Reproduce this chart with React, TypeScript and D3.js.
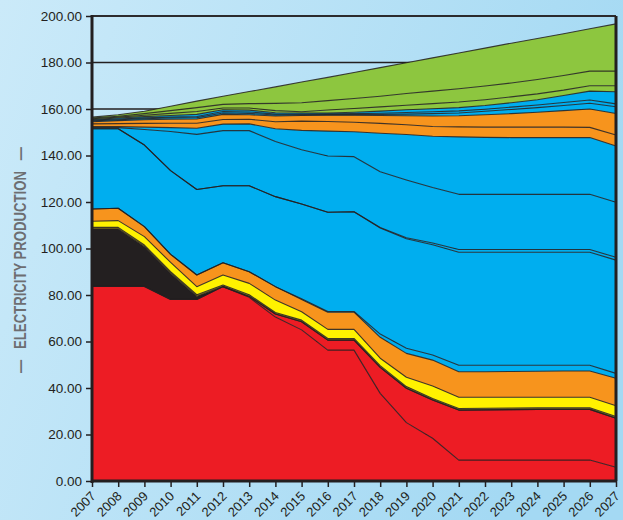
import { useEffect, useRef } from 'react';
import * as d3 from 'd3';

// years on the x axis
const years = [2007, 2008, 2009, 2010, 2011, 2012, 2013, 2014, 2015, 2016, 2017,
  2018, 2019, 2020, 2021, 2022, 2023, 2024, 2025, 2026, 2027];
const yTicks = [0, 20, 40, 60, 80, 100, 120, 140, 160, 180, 200];

// layer values, bottom to top
const redLower = [83.7, 83.7, 83.7, 78.1, 78.1, 83.6, 79.0, 70.5, 65.0, 56.3, 56.3, 37.7, 25.1, 18.4, 9.0, 9.0, 9.0, 9.0, 9.0, 9.0, 5.9];
const redUpper = [0, 0, 0, 0, 0, 0, 0.4, 1.3, 3.5, 4.3, 4.3, 11.2, 14.8, 16.4, 21.5, 21.6, 21.7, 21.8, 21.8, 21.8, 21.1];
const black = [24.7, 24.7, 17.1, 11.2, 1.3, 0, 0, 0, 0, 0, 0, 0, 0, 0, 0, 0, 0, 0, 0, 0, 0];
const olive = [0.7, 0.7, 0.7, 0.7, 0.7, 0.7, 0.7, 0.7, 0.7, 0.7, 0.7, 0.7, 0.7, 0.7, 0.7, 0.7, 0.7, 0.7, 0.7, 0.7, 0.7];
const yellow = [2.6, 2.9, 3.6, 4.0, 3.5, 4.3, 4.9, 5.3, 3.6, 3.9, 3.9, 3.2, 4.0, 5.4, 4.8, 4.7, 4.6, 4.5, 4.5, 4.5, 4.7];
const orangeLower = [5.3, 5.3, 4.3, 3.5, 5.0, 5.3, 5.0, 5.8, 5.3, 7.4, 7.4, 9.0, 10.3, 11.1, 11.0, 11.0, 11.1, 11.2, 11.3, 11.3, 11.8];
const blueThinA = [0, 0, 0, 0, 0, 0, 0, 0, 0.3, 0.3, 0.3, 1.4, 2.2, 2.2, 2.8, 2.8, 2.7, 2.6, 2.5, 2.5, 2.1];
const blueA = [34.5, 34.2, 35.1, 36.0, 36.8, 33.1, 37.0, 38.7, 40.7, 42.7, 42.9, 45.6, 47.1, 47.4, 48.6, 48.6, 48.6, 48.6, 48.6, 48.6, 48.7];
const blueThinB = [0, 0, 0, 0, 0, 0, 0, 0, 0, 0, 0, 0.2, 0.4, 0.8, 1.2, 1.2, 1.2, 1.2, 1.2, 1.2, 1.2];
const blueB = [0.5, 0.5, 6.7, 16.8, 23.7, 23.7, 23.7, 23.7, 23.4, 24.2, 23.7, 24.0, 24.9, 23.8, 23.7, 23.7, 23.7, 23.7, 23.7, 23.7, 23.7];
const blueC = [0.4, 0.4, 1.0, 1.7, 2.6, 2.8, 2.9, 5.5, 8.3, 10.7, 10.7, 16.6, 19.5, 22.1, 24.7, 24.5, 24.4, 24.4, 24.4, 24.4, 24.2];
const orangeMid = [1.2, 1.3, 1.6, 1.9, 2.2, 2.0, 2.0, 3.0, 4.0, 4.1, 4.1, 4.2, 4.2, 4.2, 4.3, 4.4, 4.5, 4.5, 4.5, 4.4, 4.7];
const orangeTop = [0.9, 1.3, 1.6, 1.7, 1.8, 2.2, 1.9, 2.5, 2.4, 2.7, 3.0, 3.4, 3.9, 4.5, 4.8, 5.3, 5.8, 6.4, 7.1, 7.9, 9.3];
const blueD = [0.4, 0.4, 0.4, 0.5, 0.6, 0.6, 0.6, 0.4, 0.3, 0.3, 0.3, 0.5, 0.7, 1.0, 1.2, 1.5, 1.8, 2.0, 2.2, 2.5, 2.9];
const blueE = [0.3, 0.3, 0.4, 0.4, 0.5, 0.6, 0.6, 0.4, 0.3, 0.3, 0.4, 0.5, 0.7, 0.8, 0.9, 0.9, 1.0, 1.1, 1.3, 1.4, 1.2];
const blueF = [0.3, 0.4, 0.5, 0.7, 0.9, 0.8, 0.8, 0.6, 0.5, 0.4, 0.6, 0.9, 1.2, 1.3, 1.4, 1.6, 1.9, 2.3, 3.0, 3.8, 5.2];
const greenA = [0.3, 0.4, 0.6, 0.9, 1.2, 0.7, 0.9, 0.9, 0.5, 1.3, 1.6, 1.8, 1.9, 2.2, 2.4, 2.5, 2.5, 2.5, 2.3, 2.3, 2.6];
const greenB = [0.3, 0.4, 0.7, 1.2, 1.7, 1.6, 1.9, 3.1, 3.9, 4.0, 4.3, 4.6, 5.1, 5.4, 5.7, 5.9, 6.0, 6.2, 6.3, 6.3, 6.3];
const greenC = [0.4, 0.6, 1.0, 1.9, 2.8, 3.5, 5.2, 7.1, 8.9, 10.0, 11.2, 12.3, 13.2, 14.3, 15.4, 16.3, 17.1, 17.6, 18.0, 18.2, 20.3];

const RED = '#ED1C24';
const BLACK = '#231F20';
const OLIVE = '#8C7B1C';
const YELLOW = '#FFF200';
const ORANGE = '#F7941D';
const BLUE = '#00AEEF';
const GREEN = '#8DC63F';

const layers = [
  { key: 'redLower', values: redLower, color: RED },
  { key: 'redUpper', values: redUpper, color: RED },
  { key: 'black', values: black, color: BLACK },
  { key: 'olive', values: olive, color: OLIVE },
  { key: 'yellow', values: yellow, color: YELLOW },
  { key: 'orangeLower', values: orangeLower, color: ORANGE },
  { key: 'blueThinA', values: blueThinA, color: BLUE },
  { key: 'blueA', values: blueA, color: BLUE },
  { key: 'blueThinB', values: blueThinB, color: BLUE },
  { key: 'blueB', values: blueB, color: BLUE },
  { key: 'blueC', values: blueC, color: BLUE },
  { key: 'orangeMid', values: orangeMid, color: ORANGE },
  { key: 'orangeTop', values: orangeTop, color: ORANGE },
  { key: 'blueD', values: blueD, color: BLUE },
  { key: 'blueE', values: blueE, color: BLUE },
  { key: 'blueF', values: blueF, color: BLUE },
  { key: 'greenA', values: greenA, color: GREEN },
  { key: 'greenB', values: greenB, color: GREEN },
  { key: 'greenC', values: greenC, color: GREEN },
];

export default function App() {
  const svgRef = useRef<SVGSVGElement>(null);

  useEffect(() => {
    const width = 623;
    const height = 520;
    const left = 92, right = 616, top = 16, bottom = 481;

    const svg = d3.select(svgRef.current)
      .attr('width', width)
      .attr('height', height);
    svg.selectAll('*').remove();

    const defs = svg.append('defs');
    const grad = defs.append('linearGradient')
      .attr('id', 'bg')
      .attr('x1', '0').attr('y1', '0').attr('x2', '1').attr('y2', '0.3');
    grad.append('stop').attr('offset', '0%').attr('stop-color', '#CBEAF9');
    grad.append('stop').attr('offset', '100%').attr('stop-color', '#A4D9F3');

    svg.append('rect')
      .attr('width', width)
      .attr('height', height)
      .attr('fill', 'url(#bg)');

    const x = d3.scaleLinear().domain([2007, 2027]).range([left, right]);
    const y = d3.scaleLinear().domain([0, 200]).range([bottom, top]);

    // grid lines
    svg.append('g')
      .selectAll('line')
      .data(yTicks.filter(d => d > 0))
      .join('line')
      .attr('x1', left).attr('x2', right)
      .attr('y1', d => y(d)).attr('y2', d => y(d))
      .attr('stroke', BLACK)
      .attr('stroke-width', 1.3);

    const rows = years.map((year, i) => {
      const row: any = { year };
      layers.forEach(l => { row[l.key] = l.values[i]; });
      return row;
    });

    const stacked = d3.stack().keys(layers.map(l => l.key))(rows);

    const area = d3.area<any>()
      .x(d => x(d.data.year))
      .y0(d => y(d[0]))
      .y1(d => y(d[1]));

    const topLine = d3.line<any>()
      .x(d => x(d.data.year))
      .y(d => y(d[1]));

    const chart = svg.append('g');
    chart.selectAll('path.area')
      .data(stacked)
      .join('path')
      .attr('class', 'area')
      .attr('d', area)
      .attr('fill', (d, i) => layers[i].color);

    chart.selectAll('path.edge')
      .data(stacked)
      .join('path')
      .attr('class', 'edge')
      .attr('d', topLine)
      .attr('fill', 'none')
      .attr('stroke', BLACK)
      .attr('stroke-opacity', 0.85)
      .attr('stroke-width', 1.1)
      .attr('stroke-linejoin', 'round');

    // frame
    svg.append('line')
      .attr('x1', left).attr('x2', right)
      .attr('y1', top).attr('y2', top)
      .attr('stroke', BLACK).attr('stroke-width', 1.5);
    svg.append('line')
      .attr('x1', right).attr('x2', right)
      .attr('y1', top).attr('y2', bottom)
      .attr('stroke', BLACK).attr('stroke-width', 3);

    // y axis
    const yAxis = svg.append('g')
      .attr('transform', `translate(${left},0)`)
      .call(d3.axisLeft(y).tickValues(yTicks).tickSize(6).tickPadding(4)
        .tickFormat(d => (+d).toFixed(2)));
    yAxis.select('.domain').remove();
    yAxis.selectAll('line').attr('stroke', BLACK).attr('stroke-width', 1.5);
    yAxis.selectAll('text')
      .attr('fill', BLACK)
      .style('font-family', 'Liberation Sans, Arial, sans-serif')
      .style('font-size', '13.5px');

    // x axis
    const xAxis = svg.append('g')
      .attr('transform', `translate(0,${bottom})`)
      .call(d3.axisBottom(x).tickValues(years).tickSize(6).tickFormat(d3.format('d')));
    xAxis.select('.domain').remove();
    xAxis.selectAll('line').attr('stroke', BLACK).attr('stroke-width', 1.5);
    xAxis.selectAll('text')
      .attr('fill', BLACK)
      .attr('text-anchor', 'end')
      .attr('x', 0)
      .attr('y', 0)
      .attr('dy', 0)
      .attr('transform', 'translate(4,16) rotate(-45)')
      .style('font-family', 'Liberation Sans, Arial, sans-serif')
      .style('font-size', '13px');

    svg.append('line')
      .attr('x1', left).attr('x2', left)
      .attr('y1', top - 1).attr('y2', bottom + 2)
      .attr('stroke', BLACK).attr('stroke-width', 3);
    svg.append('line')
      .attr('x1', left - 1).attr('x2', right + 1)
      .attr('y1', bottom).attr('y2', bottom)
      .attr('stroke', BLACK).attr('stroke-width', 3);

    // axis title
    svg.append('text')
      .attr('transform', 'translate(26,260) rotate(-90)')
      .attr('text-anchor', 'middle')
      .attr('fill', '#6D6E71')
      .attr('textLength', 226)
      .attr('lengthAdjust', 'spacingAndGlyphs')
      .style('font-family', 'Liberation Sans, Arial, sans-serif')
      .style('font-weight', 'bold')
      .style('font-size', '17px')
      .style('white-space', 'pre')
      .text('—   ELECTRICITY PRODUCTION   —');
  }, []);

  return (
    <svg ref={svgRef} style={{ position: 'absolute', left: 0, top: 0 }}></svg>
  );
}
